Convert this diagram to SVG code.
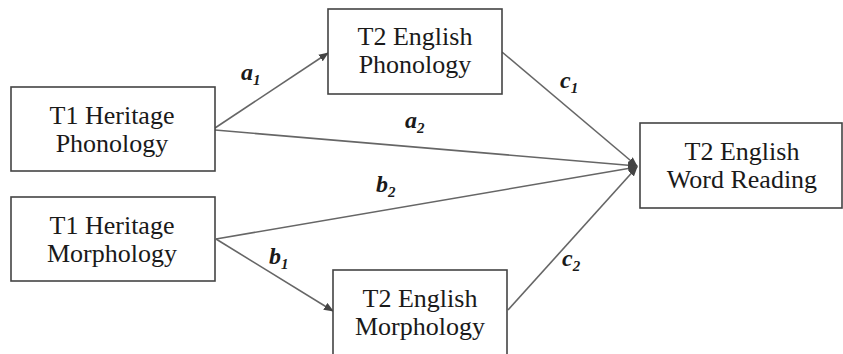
<svg xmlns="http://www.w3.org/2000/svg" width="843" height="354" viewBox="0 0 843 354">
<style>
.box{fill:#fff;stroke:#444;stroke-width:1.6}
.t{font-family:'Liberation Serif',serif;font-size:26px;fill:#1a1a1a;text-anchor:middle}
.lab{font-family:'Liberation Serif',serif;font-size:24px;font-style:italic;font-weight:bold;fill:#1a1a1a}
.sub{font-size:15px}
.c{stroke:#666;stroke-width:1.6;fill:none;marker-end:url(#ah)}
</style>
<defs>
<marker id="ah" viewBox="0 0 10 8" refX="9" refY="4" markerWidth="10" markerHeight="8" markerUnits="userSpaceOnUse" orient="auto">
<path d="M0,0 L10,4 L0,8 z" fill="#444"/>
</marker>
</defs>
<rect width="843" height="354" fill="#fff"/>
<g id="connectors">
<line class="c" x1="215" y1="128" x2="328" y2="53"/>
<line class="c" x1="215" y1="130" x2="637" y2="166"/>
<line class="c" x1="216" y1="239" x2="637" y2="167"/>
<line class="c" x1="216" y1="239" x2="333" y2="311"/>
<line class="c" x1="502" y1="52" x2="637" y2="166"/>
<line class="c" x1="508" y1="310" x2="637" y2="167"/>
</g>
<g id="labels">
<text class="lab" x="241" y="80">a<tspan class="sub" dy="5">1</tspan></text>
<text class="lab" x="405" y="128">a<tspan class="sub" dy="5">2</tspan></text>
<text class="lab" x="376" y="192">b<tspan class="sub" dy="5">2</tspan></text>
<text class="lab" x="269" y="264">b<tspan class="sub" dy="5">1</tspan></text>
<text class="lab" x="560" y="88">c<tspan class="sub" dy="5">1</tspan></text>
<text class="lab" x="562" y="266">c<tspan class="sub" dy="5">2</tspan></text>
</g>
<g id="n-t1-phon">
<rect class="box" x="11" y="87" width="204" height="84"/>
<text class="t" x="112" y="124">T1 Heritage</text>
<text class="t" x="112" y="152">Phonology</text>
</g>
<g id="n-t1-morph">
<rect class="box" x="11" y="197" width="204" height="84"/>
<text class="t" x="112" y="234">T1 Heritage</text>
<text class="t" x="112" y="262">Morphology</text>
</g>
<g id="n-t2-phon">
<rect class="box" x="328" y="9" width="174" height="85"/>
<text class="t" x="415" y="45">T2 English</text>
<text class="t" x="415" y="73">Phonology</text>
</g>
<g id="n-t2-morph">
<rect class="box" x="333" y="270" width="174" height="90"/>
<text class="t" x="420" y="307">T2 English</text>
<text class="t" x="420" y="335">Morphology</text>
</g>
<g id="n-t2-read">
<rect class="box" x="640" y="123" width="202" height="85"/>
<text class="t" x="742" y="160">T2 English</text>
<text class="t" x="742" y="188">Word Reading</text>
</g>
</svg>
